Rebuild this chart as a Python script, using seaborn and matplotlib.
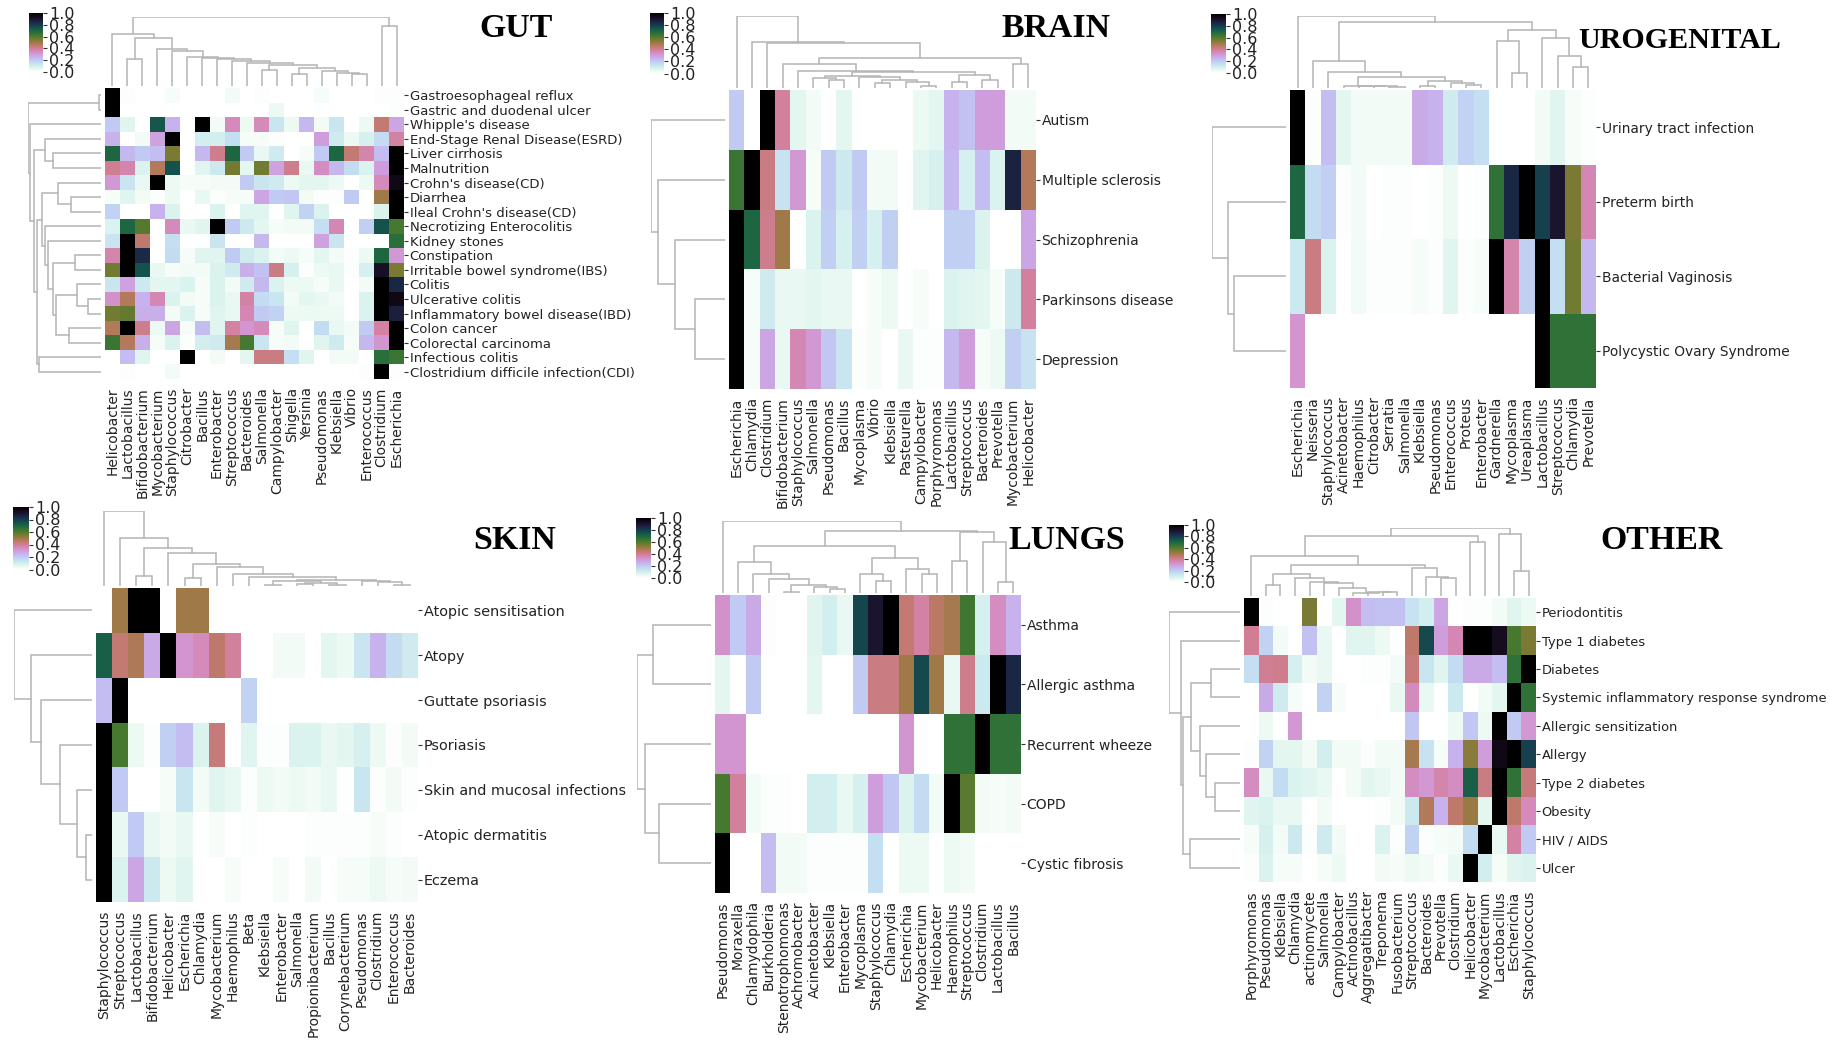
import numpy as np
import pandas as pd
import seaborn as sns
import matplotlib
matplotlib.use('Agg')
import matplotlib.pyplot as plt

# values, trees are [height in px, left, right], ints are leaves
gut_cols = ['Helicobacter', 'Lactobacillus', 'Bifidobacterium', 'Mycobacterium', 'Staphylococcus', 'Citrobacter',
            'Bacillus', 'Enterobacter', 'Streptococcus', 'Bacteroides', 'Salmonella', 'Campylobacter', 'Shigella',
            'Yersinia', 'Pseudomonas', 'Klebsiella', 'Vibrio', 'Enterococcus', 'Clostridium', 'Escherichia']
gut_rows = ['Gastroesophageal reflux', 'Gastric and duodenal ulcer', "Whipple's disease",
            'End-Stage Renal Disease(ESRD)', 'Liver cirrhosis', 'Malnutrition', "Crohn's disease(CD)", 'Diarrhea',
            "Ileal Crohn's disease(CD)", 'Necrotizing Enterocolitis', 'Kidney stones', 'Constipation',
            'Irritable bowel syndrome(IBS)', 'Colitis', 'Ulcerative colitis', 'Inflammatory bowel disease(IBD)',
            'Colon cancer', 'Colorectal carcinoma', 'Infectious colitis', 'Clostridium difficile infection(CDI)']
gut_values = [
    [1, .01, 0, 0, .02, 0, 0, 0, .03, 0, .01, 0, 0, 0, .02, 0, 0, 0, .01, .01],
    [1, 0, 0, 0, 0, 0, 0, 0, 0, 0, 0, .04, 0, 0, 0, 0, 0, 0, 0, .01],
    [.2, .07, 0, .74, .25, 0, 1, .03, .35, .04, .35, .13, .04, .24, .03, .13, 0, .04, .44, .28],
    [.25, 0, .03, .29, 1, 0, .1, .1, .15, .02, .02, .01, 0, 0, .3, .11, .04, .09, .16, .38],
    [.7, .24, .2, .23, .55, 0, .24, .41, .7, .2, .05, .11, 0, .02, .2, .7, .44, .37, .23, 1],
    [.4, .37, .08, .47, .75, 0, .07, .12, .56, .06, .56, .29, .41, .05, .34, .24, .16, .08, .3, 1],
    [.31, .13, .05, 1, .04, .02, .02, .03, .03, .2, .13, .11, .04, .06, .06, .04, 0, .04, .35, .95],
    [.02, .07, .03, .01, .04, 0, .05, .01, .02, .02, .28, .2, .21, .03, .01, .01, .2, 0, .5, 1],
    [.18, 0, 0, .25, .08, 0, 0, .08, 0, .07, .07, 0, .07, .18, .08, 0, 0, 0, .08, 1],
    [.08, .7, .6, 0, .35, .05, .07, 1, .2, .12, .06, .02, .03, .03, .15, .36, 0, .19, .75, .62],
    [.13, 1, .45, 0, .15, 0, 0, .13, 0, 0, .24, 0, 0, 0, .29, .13, 0, 0, 0, .67],
    [.37, 1, .84, 0, .16, .02, .07, .07, .2, .11, .08, .03, .04, .02, .06, .03, .01, .04, .7, .31],
    [.56, 1, .75, .05, .02, .03, .03, .08, .11, .26, .22, .42, .09, .01, .04, .05, .01, .09, .92, .55],
    [.13, .29, .12, .06, .06, .08, .02, .08, .03, .11, .24, .08, .04, .04, .02, .05, 0, .03, 1, .85],
    [.33, .47, .25, .36, .08, .03, .02, .08, .05, .38, .16, .13, .03, .06, .05, .03, 0, .08, 1, .95],
    [.56, .58, .26, .26, .03, .08, .02, .07, .05, .36, .2, .18, .04, .04, .04, .04, 0, .08, 1, .87],
    [.47, 1, .41, .04, .28, .02, .23, .07, .38, .32, .35, .02, .07, 0, .16, .05, .03, .2, .38, 1],
    [.64, .47, .26, .02, .08, .01, .1, .11, .49, .62, .13, .02, .03, 0, .07, .11, .02, .24, .32, 1],
    [0, .23, .07, 0, 0, 1, 0, .03, 0, .06, .42, .42, .15, .07, 0, .03, .03, 0, .67, .64],
    [0, .01, 0, 0, .03, 0, 0, 0, 0, 0, 0, 0, 0, 0, 0, 0, 0, .01, 1, .01],
]
gut_col_tree = [69, [52, 0, [48, [27, 1, 2], [37, 3, [35, 4, [29, 5, [28, 6, [27, 7, [25, 8, [23, 9,
                [21, [16, 10, 11], [18, [12, 12, 13], [15, 14, [13, 15, [12, 16, 17]]]]]]]]]]]]]],
                [60, 18, 19]]
gut_row_tree = [73, [1.7, 0, 1], [71, 2, [67, [56, 3, [48, 4, 5]],
                [64, [59, [43, 6, [30, 7, 8]], [56, 9, [53, 10, [48, [26, 11, 12],
                [45, [24, 13, [13, 14, 15]], [32, 16, 17]]]]]], [62, 18, 19]]]]]

brain_cols = ['Escherichia', 'Chlamydia', 'Clostridium', 'Bifidobacterium', 'Staphylococcus', 'Salmonella',
              'Pseudomonas', 'Bacillus', 'Mycoplasma', 'Vibrio', 'Klebsiella', 'Pasteurella', 'Campylobacter',
              'Porphyromonas', 'Lactobacillus', 'Streptococcus', 'Bacteroides', 'Prevotella', 'Mycobacterium',
              'Helicobacter']
brain_rows = ['Autism', 'Multiple sclerosis', 'Schizophrenia', 'Parkinsons disease', 'Depression']
brain_values = [
    [.2, 0, 1, .39, .06, .03, 0, .06, 0, 0, 0, 0, .04, .06, .25, .22, .3, .3, .03, .03],
    [.64, 1, .42, .14, .31, .02, .2, .12, .2, .03, .03, 0, .07, .09, .24, .09, .23, .08, .86, .47],
    [1, .7, .41, .5, 0, .08, .19, .09, .19, .09, .19, 0, 0, 0, .19, .19, .08, 0, 0, .28],
    [1, .02, .11, .05, .05, .06, .05, .05, 0, .02, .04, 0, .02, 0, .08, .07, .06, .02, .12, .39],
    [1, .02, .28, .05, .36, .31, .21, .13, .01, .02, 0, .05, .01, .01, .24, .3, .02, .04, .19, .14],
]
brain_col_tree = [72, 0, [46, 1, [45, 2, [30, [24, 3, [17, 4, [16, [12, [10, 5, [8, 6, 7]], [11, 8, [8, [5, 9, 10],
                  [6, 11, [2.5, 12, 13]]]]], [13, [6, 14, 15], [8, 16, 17]]]]], [24, 18, 19]]]]]
brain_row_tree = [74, 0, [67, 1, [50, 2, [30, 3, 4]]]]

uro_cols = ['Escherichia', 'Neisseria', 'Staphylococcus', 'Acinetobacter', 'Haemophilus', 'Citrobacter', 'Serratia',
            'Salmonella', 'Klebsiella', 'Pseudomonas', 'Enterococcus', 'Proteus', 'Enterobacter', 'Gardnerella',
            'Mycoplasma', 'Ureaplasma', 'Lactobacillus', 'Streptococcus', 'Chlamydia', 'Prevotella']
uro_rows = ['Urinary tract infection', 'Preterm birth', 'Bacterial Vaginosis', 'Polycystic Ovary Syndrome']
uro_values = [
    [1, .01, .23, .06, .03, .03, .03, .03, .27, .25, .11, .18, .15, 0, 0, 0, .03, .07, .02, .01],
    [.7, .16, .19, .01, .03, 0, .01, .01, 0, .01, .04, 0, .01, .66, .85, 1, .79, .9, .55, .36],
    [.12, .42, .08, 0, .03, .01, .01, .01, .02, .01, .07, .01, .02, 1, .37, .19, 1, .15, .56, .24],
    [.32, 0, 0, 0, 0, 0, 0, 0, 0, 0, 0, 0, 0, 0, 0, 0, 1, .66, .66, .66],
]
uro_col_tree = [72, 0, [66, [27, 1, [16, 2, [11, [2.5, 3, [2.2, 4, [1.8, 5, [1, 6, 7]]]],
                [7, [2.5, 8, 9], [4.6, 10, [3, 11, 12]]]]]],
                [58, [47, 13, [15, 14, 15]], [50, 16, [32, 17, [21, 18, 19]]]]]]
uro_row_tree = [74, 0, [58, 1, [52, 2, 3]]]

skin_cols = ['Staphylococcus', 'Streptococcus', 'Lactobacillus', 'Bifidobacterium', 'Helicobacter', 'Escherichia',
             'Chlamydia', 'Mycobacterium', 'Haemophilus', 'Beta', 'Klebsiella', 'Enterobacter', 'Salmonella',
             'Propionibacterium', 'Bacillus', 'Corynebacterium', 'Pseudomonas', 'Clostridium', 'Enterococcus',
             'Bacteroides']
skin_rows = ['Atopic sensitisation', 'Atopy', 'Guttate psoriasis', 'Psoriasis', 'Skin and mucosal infections',
             'Atopic dermatitis', 'Eczema']
skin_values = [
    [0, .5, 1, 1, 0, .5, .5, 0, 0, 0, 0, 0, 0, 0, 0, 0, 0, 0, 0, 0],
    [.72, .44, .48, .27, 1, .32, .35, .45, .39, 0, 0, .03, .03, 0, .06, .04, .13, .25, .16, .11],
    [.23, 1, 0, 0, 0, 0, 0, 0, 0, .18, 0, 0, 0, 0, 0, 0, 0, 0, 0, 0],
    [1, .62, .04, .01, .19, .23, .08, .43, 0, .07, .01, .01, .08, .08, .05, .06, .09, .04, .01, .03],
    [1, .2, 0, 0, .02, .13, .03, .07, .05, .01, .04, .03, .04, .03, .05, 0, .13, .01, .03, .01],
    [1, .05, .2, .05, .03, .05, 0, .02, 0, .01, 0, 0, 0, .01, .01, .01, .01, .02, .01, 0],
    [1, .08, .28, .12, .04, .07, 0, 0, .02, 0, 0, .02, 0, .03, 0, .02, .02, .04, .02, .03],
]
skin_col_tree = [75, 0, [48, 1, [38, [10, 2, 3], [33, 4, [22, [8, 5, 6], [19, 7, [12, 8, [9, 9, [6,
                 [5, [1, 10, 11], [3, [2, 12, 13], [1.5, 14, 15]]],
                 [5.3, 16, [3.7, 17, [1, 18, 19]]]]]]]]]]]]
skin_row_tree = [78, 0, [61, 1, [51, 2, [32, 3, [15, 4, [6, 5, 6]]]]]]

lung_cols = ['Pseudomonas', 'Moraxella', 'Chlamydophila', 'Burkholderia', 'Stenotrophomonas', 'Achromobacter',
             'Acinetobacter', 'Klebsiella', 'Enterobacter', 'Mycoplasma', 'Staphylococcus', 'Chlamydia',
             'Escherichia', 'Mycobacterium', 'Helicobacter', 'Haemophilus', 'Streptococcus', 'Clostridium',
             'Lactobacillus', 'Bacillus']
lung_rows = ['Asthma', 'Allergic asthma', 'Recurrent wheeze', 'COPD', 'Cystic fibrosis']
lung_values = [
    [.33, .2, .27, .01, 0, 0, .07, .1, .05, .78, .9, 1, .44, .38, .46, .49, .63, .09, .34, .25],
    [.06, 0, .2, 0, 0, 0, .06, 0, 0, .2, .42, .42, .5, .77, .5, .05, .41, .12, 1, .85],
    [.32, .32, 0, 0, 0, 0, 0, 0, 0, 0, 0, 0, .32, 0, 0, .66, .66, 1, .66, .66],
    [.62, .39, .03, .01, .01, 0, .1, .1, .05, .09, .3, .21, .08, .16, .03, 1, .59, .03, .02, .03],
    [1, 0, 0, .23, .03, .03, .01, .01, .01, .01, .15, 0, .04, .04, 0, .04, .03, 0, 0, 0],
]
lung_col_tree = [72, 0, [62, [47, [31, 1, [19, 2, [14, 3, [8, [1.5, 4, 5], [6, 6, [4, 7, 8]]]]]],
                 [35, [19, 9, [12, 10, 11]], [24, 12, [19, 13, 14]]]],
                 [61, [32, 15, 16], [51, 17, [10.6, 18, 19]]]]]
lung_row_tree = [74, [58, 0, 1], [66, 2, [52, 3, 4]]]

other_cols = ['Porphyromonas', 'Pseudomonas', 'Klebsiella', 'Chlamydia', 'actinomycete', 'Salmonella', 'Campylobacter',
              'Actinobacillus', 'Aggregatibacter', 'Treponema', 'Fusobacterium', 'Streptococcus', 'Bacteroides',
              'Prevotella', 'Clostridium', 'Helicobacter', 'Mycobacterium', 'Lactobacillus', 'Escherichia',
              'Staphylococcus']
other_rows = ['Periodontitis', 'Type 1 diabetes', 'Diabetes', 'Systemic inflammatory response syndrome',
              'Allergic sensitization', 'Allergy', 'Type 2 diabetes', 'Obesity', 'HIV / AIDS', 'Ulcer']
other_values = [
    [1, .01, 0, 0, .55, 0, .06, .33, .23, .22, .22, .14, .1, .28, 0, .01, .01, .03, .07, .04],
    [.4, .18, .03, 0, .22, .05, 0, .07, .07, .04, 0, .45, .77, .3, .36, 1, 1, .93, .62, .55],
    [.15, .4, .41, .09, .03, .05, 0, 0, .01, .01, .03, .43, .13, .07, .16, .27, .27, .23, .66, 1],
    [0, .27, .11, .02, 0, .18, .02, 0, 0, 0, .05, .35, .05, 0, .12, 0, .03, .06, 1, .66],
    [0, .04, 0, .31, 0, 0, 0, 0, 0, 0, 0, .21, 0, 0, .04, .21, .04, 1, .2, .31],
    [.01, .18, .06, .06, .03, .1, .03, .03, .01, .03, .03, .49, .14, .02, .25, .53, .3, .95, 1, .79],
    [.34, .05, .16, .08, .07, .05, 0, .03, .06, .05, .03, .34, .31, .37, .34, .72, .42, 1, .66, .43],
    [.07, .08, .05, .05, 0, .03, 0, 0, 0, .01, .03, .12, .47, .25, .45, .51, .06, 1, .45, .35],
    [.02, .09, .03, .12, .01, .11, .03, 0, 0, .08, .01, .18, .01, .02, .03, .16, 1, .05, .38, .2],
    [.01, .08, .02, .02, 0, .02, .04, 0, 0, .03, .02, .04, .03, .01, .05, 1, .1, .02, .07, .08],
]
other_col_tree = [68, [60, [40, 0, [31, [22, [10.6, 1, 2], [18, 3, [14, 4, [13, 5, [8, 6, [3, 7, [4.5, 8, [4, 9, 10]]]]]]]],
                  [28, 11, [19, 12, [17.7, 13, 14]]]]], [54, 15, 16]], [62, 17, [25, 18, 19]]]
other_row_tree = [71, 0, [59, 1, [57, [49, [29, 2, 3], [40, 4, [34, 5, [25, 6, 7]]]], [50, 8, 9]]]]

W, H = 1831, 1054
LINE = '#b4b4b4'
sns.set_theme(style='white')
plt.rcParams['font.family'] = 'DejaVu Sans'
fig = plt.figure(figsize=(W / 100, H / 100), dpi=100)


def px_axes(x0, y0, x1, y1):
    # axes from pixel box, y counted from the top of the picture
    return fig.add_axes([x0 / W, 1 - y1 / H, (x1 - x0) / W, (y1 - y0) / H])


def draw_tree(ax, node, vertical):
    if not isinstance(node, list):
        return node + 0.5, 0
    h, left, right = node
    p1, h1 = draw_tree(ax, left, vertical)
    p2, h2 = draw_tree(ax, right, vertical)
    if vertical:
        ax.plot([p1, p1, p2, p2], [h1, h, h, h2], color=LINE, lw=1.1, solid_joinstyle='miter')
    else:
        ax.plot([h1, h, h, h2], [p1, p1, p2, p2], color=LINE, lw=1.1, solid_joinstyle='miter')
    return (p1 + p2) / 2, h


def panel(title, rows, cols, values, col_tree, row_tree, box, cbar_box, title_xy,
          title_size=24.4, col_size=10, row_size=10):
    x0, y0, x1, y1 = box
    df = pd.DataFrame(values, index=rows, columns=cols)
    ax = px_axes(x0, y0, x1, y1)
    cax = px_axes(*cbar_box)
    sns.heatmap(df, ax=ax, cbar_ax=cax, cmap='cubehelix_r', vmin=0, vmax=1, xticklabels=True, yticklabels=True)
    ax.yaxis.tick_right()
    ax.tick_params(axis='y', length=3, width=0.8, color='#333333', pad=1, labelrotation=0,
                   labelsize=row_size, labelcolor='#222222', left=False, right=True)
    ax.tick_params(axis='x', length=0, pad=6, labelrotation=90, labelsize=col_size, labelcolor='#222222')
    cax.tick_params(length=3, width=0.8, color='#333333', pad=1.5, labelsize=11.5, labelcolor='#222222')
    cax.set_yticks([0, .2, .4, .6, .8, 1])
    cax.yaxis.set_major_formatter('{x:.1f}')

    # dendrograms, heights are already in pixels
    top = col_tree[0]
    dax = px_axes(x0, y0 - 2 - top, x1, y0 - 2)
    dax.set_xlim(0, len(cols))
    dax.set_ylim(0, top)
    dax.axis('off')
    draw_tree(dax, col_tree, True)

    side = row_tree[0]
    rax = px_axes(x0 - 4 - side, y0, x0 - 4, y1)
    rax.set_xlim(side, 0)
    rax.set_ylim(len(rows), 0)
    rax.axis('off')
    draw_tree(rax, row_tree, False)

    fig.text(title_xy[0] / W, 1 - title_xy[1] / H, title, family='Liberation Serif', weight='bold',
             size=title_size, color='black', ha='center', va='center')


panel('GUT', gut_rows, gut_cols, gut_values, gut_col_tree, gut_row_tree,
      (105, 88, 404, 379), (29, 13, 43, 72), (516, 28.5), row_size=9.55)
panel('BRAIN', brain_rows, brain_cols, brain_values, brain_col_tree, brain_row_tree,
      (729, 90, 1036, 389), (650, 13, 664, 73.5), (1056, 28.5), row_size=10)
panel('UROGENITAL', uro_rows, uro_cols, uro_values, uro_col_tree, uro_row_tree,
      (1290, 90, 1596, 388), (1211, 14, 1226, 73), (1680, 40.5), title_size=21.6, row_size=9.9)
panel('SKIN', skin_rows, skin_cols, skin_values, skin_col_tree, skin_row_tree,
      (96, 588, 418, 902), (13, 507, 29, 569.5), (515, 540.5), row_size=10.4)
panel('LUNGS', lung_rows, lung_cols, lung_values, lung_col_tree, lung_row_tree,
      (715, 595, 1021, 893), (636, 518, 651, 578), (1067, 540.5))
panel('OTHER', other_rows, other_cols, other_values, other_col_tree, other_row_tree,
      (1244, 598, 1536, 882), (1169, 525, 1184, 582), (1662, 540.5), row_size=9.35)

fig.savefig('out.png', dpi=100, facecolor='white')
